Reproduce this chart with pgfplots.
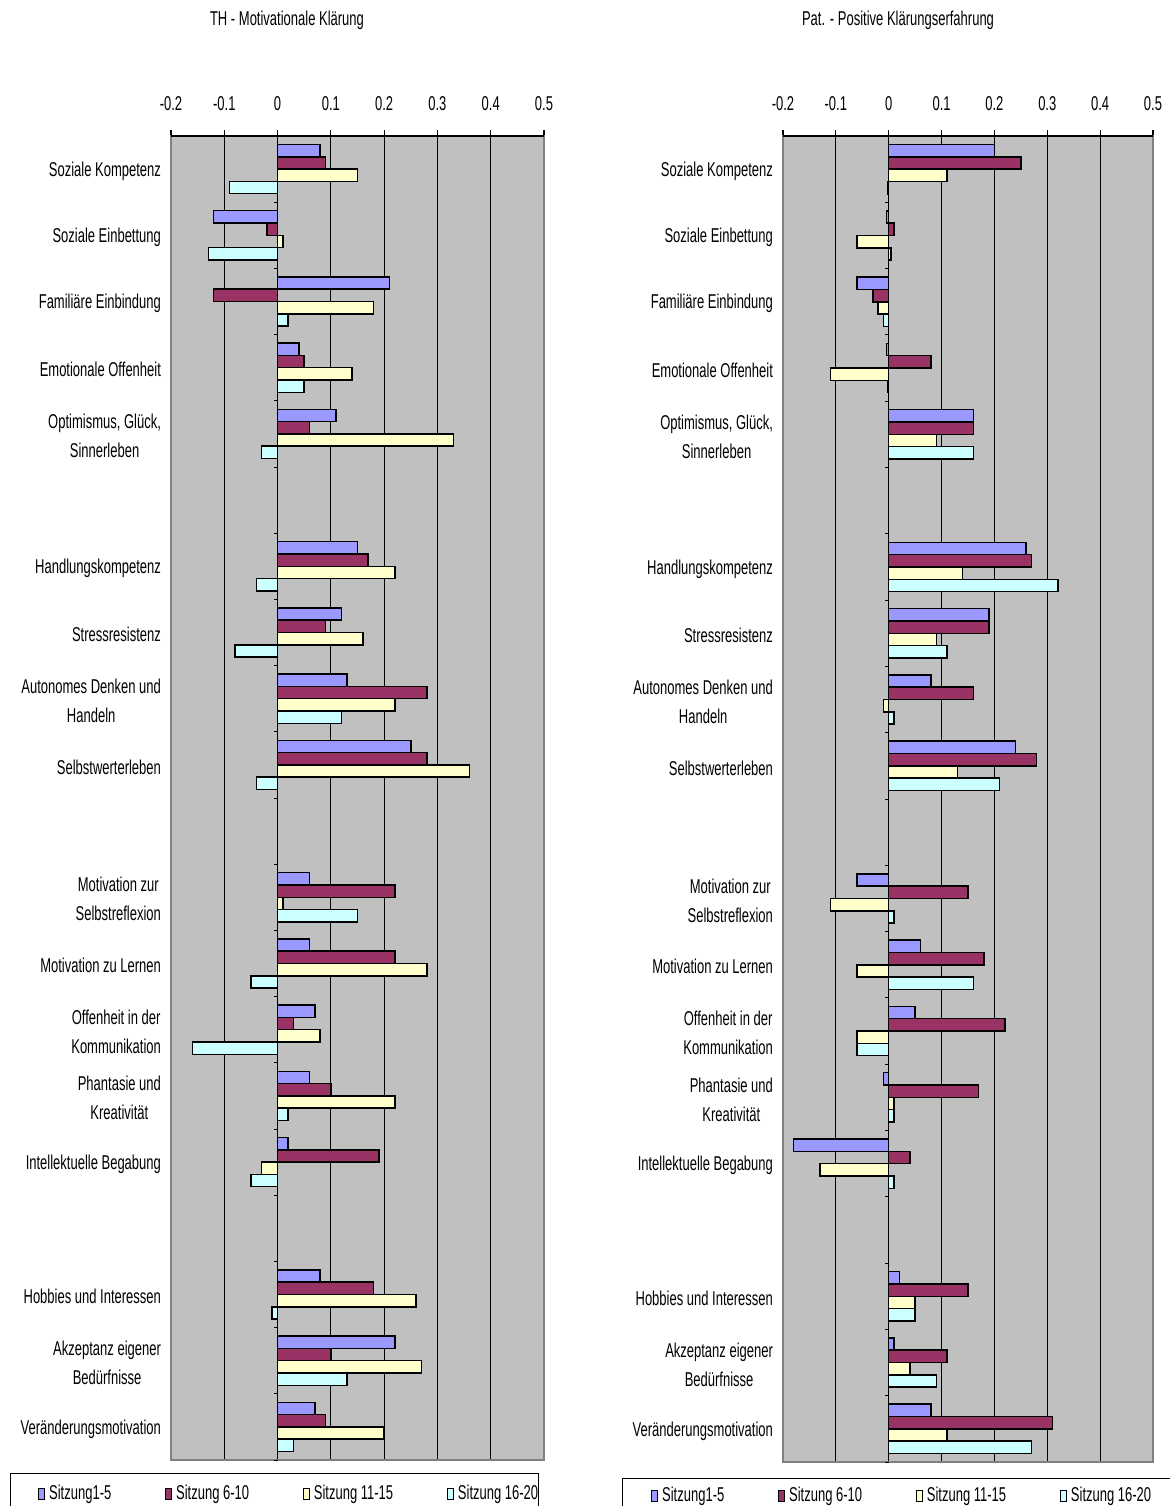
\documentclass[border=0pt]{standalone}
\usepackage{fontspec}
\setmainfont{Liberation Sans}[FakeStretch=0.65]
\usepackage{pgfplots}
\pgfplotsset{compat=1.18}
\usepackage{pgfplotstable}

\definecolor{sA}{HTML}{9999FF}
\definecolor{sB}{HTML}{993366}
\definecolor{sC}{HTML}{FFFFCC}
\definecolor{sD}{HTML}{CCFFFF}
\definecolor{plotbg}{HTML}{C0C0C0}
\definecolor{bordergray}{HTML}{808080}

\pgfplotstableread{
idx s1 s2 s3 s4
1 0.08 0.09 0.15 -0.09
2 -0.12 -0.02 0.01 -0.13
3 0.21 -0.12 0.18 0.02
4 0.04 0.05 0.14 0.05
5 0.11 0.06 0.33 -0.03
7 0.15 0.17 0.22 -0.04
8 0.12 0.09 0.16 -0.08
9 0.13 0.28 0.22 0.12
10 0.25 0.28 0.36 -0.04
12 0.06 0.22 0.01 0.15
13 0.06 0.22 0.28 -0.05
14 0.07 0.03 0.08 -0.16
15 0.06 0.10 0.22 0.02
16 0.02 0.19 -0.03 -0.05
18 0.08 0.18 0.26 -0.01
19 0.22 0.10 0.27 0.13
20 0.07 0.09 0.20 0.03
}\leftdata

\pgfplotstableread{
idx s1 s2 s3 s4
1 0.20 0.25 0.11 -0.002
2 -0.004 0.01 -0.06 0.004
3 -0.06 -0.03 -0.02 -0.01
4 -0.004 0.08 -0.11 -0.002
5 0.16 0.16 0.09 0.16
7 0.26 0.27 0.14 0.32
8 0.19 0.19 0.09 0.11
9 0.08 0.16 -0.01 0.01
10 0.24 0.28 0.13 0.21
12 -0.06 0.15 -0.11 0.01
13 0.06 0.18 -0.06 0.16
14 0.05 0.22 -0.06 -0.06
15 -0.01 0.17 0.01 0.01
16 -0.18 0.04 -0.13 0.01
18 0.02 0.15 0.05 0.05
19 0.01 0.11 0.04 0.09
20 0.08 0.31 0.11 0.27
}\rightdata

\newcommand{\chartfont}{\fontsize{10pt}{14.5pt}\selectfont}

\pgfplotsset{
  panel/.style={
    scale only axis, xbar, y dir=reverse,
    xmin=-0.2, xmax=0.5, ymin=0.5, ymax=20.5,
    enlargelimits=false, clip=false,
    xtick={-0.2,-0.1,0,0.1,0.2,0.3,0.4,0.5},
    xticklabels={-0.2,-0.1,0,0.1,0.2,0.3,0.4,0.5},
    xtick pos=right, xticklabel pos=right,
    tick align=outside, major tick length=3pt,
    xtick style={black, line width=0.6pt},
    xticklabel shift=6pt,
    xmajorgrids, major grid style={black, line width=0.5pt},
    ytick={1,2,3,4,5,7,8,9,10,12,13,14,15,16,18,19,20},
    yticklabels={Soziale Kompetenz, Soziale Einbettung, Familiäre Einbindung, Emotionale Offenheit,
      {Optimismus, Glück,\\Sinnerleben}, Handlungskompetenz, Stressresistenz,
      {Autonomes Denken und\\Handeln}, Selbstwerterleben, {Motivation zur\\Selbstreflexion},
      Motivation zu Lernen, {Offenheit in der\\Kommunikation}, {Phantasie und\\Kreativität},
      Intellektuelle Begabung, Hobbies und Interessen, {Akzeptanz eigener\\Bedürfnisse},
      Veränderungsmotivation},
    ytick style={draw=none},
    yticklabel style={align=center, anchor=east, font=\chartfont, xshift=1.5pt, yshift=-1pt},
    xticklabel style={font=\chartfont},
    axis line style={bordergray, line width=1pt},
    axis background/.style={fill=plotbg},
    bar width=0.186,
    legend columns=4,
    legend style={draw=none, fill=none, font=\chartfont,
      inner xsep=0pt, inner ysep=0pt,
      /tikz/every even column/.append style={column sep=25pt}},
    legend image code/.code={\draw[##1, line width=0.4pt] (0pt,-2.75pt) rectangle (3pt,2.75pt);},
  },
  bA/.style={fill=sA, draw=black, line width=0.75pt, bar shift=-0.279},
  bB/.style={fill=sB, draw=black, line width=0.75pt, bar shift=-0.093},
  bC/.style={fill=sC, draw=black, line width=0.75pt, bar shift=0.093},
  bD/.style={fill=sD, draw=black, line width=0.75pt, bar shift=0.279},
}

\begin{document}
\begin{tikzpicture}[font=\chartfont]
\path[use as bounding box] (0,0) rectangle (585pt,753pt);

% titles
\node[anchor=center, inner sep=0pt] at (143.5pt,743pt) {TH - Motivationale Klärung};
\node[anchor=center, inner sep=0pt] at (449pt,743pt) {Pat. - Positive Klärungserfahrung};

% legend frames
\draw[black, line width=0.5pt] (5pt,-5pt) rectangle (269pt,16pt);
\draw[black, line width=0.5pt] (311pt,-5pt) rectangle (600pt,13.5pt);

\begin{axis}[panel,
  at={(85.5pt,23pt)}, anchor=south west,
  width=186.5pt, height=662pt,
  legend style={at={(axis description cs:-0.3566,-0.0159)}, anchor=north west},
]
\addplot[bA] table[x=s1, y=idx] {\leftdata};
\addplot[bB] table[x=s2, y=idx] {\leftdata};
\addplot[bC] table[x=s3, y=idx] {\leftdata};
\addplot[bD] table[x=s4, y=idx] {\leftdata};
\legend{Sitzung1-5, Sitzung 6-10, Sitzung 11-15, Sitzung 16-20}
\draw[black, line width=0.75pt] (axis description cs:0,1) -- (axis description cs:1,1);
\pgfplotsinvokeforeach{0.5,1.5,...,20.5}{\draw[black, line width=0.5pt] (axis cs:0,#1) -- ++(-2pt,0pt);}
\end{axis}

\begin{axis}[panel,
  at={(391.5pt,22pt)}, anchor=south west,
  width=185pt, height=663pt,
  legend style={at={(axis description cs:-0.3568,-0.0158)}, anchor=north west},
]
\addplot[bA] table[x=s1, y=idx] {\rightdata};
\addplot[bB] table[x=s2, y=idx] {\rightdata};
\addplot[bC] table[x=s3, y=idx] {\rightdata};
\addplot[bD] table[x=s4, y=idx] {\rightdata};
\legend{Sitzung1-5, Sitzung 6-10, Sitzung 11-15, Sitzung 16-20}
\draw[black, line width=0.75pt] (axis description cs:0,1) -- (axis description cs:1,1);
\pgfplotsinvokeforeach{0.5,1.5,...,20.5}{\draw[black, line width=0.5pt] (axis cs:0,#1) -- ++(-2pt,0pt);}
\end{axis}
\end{tikzpicture}
\end{document}
